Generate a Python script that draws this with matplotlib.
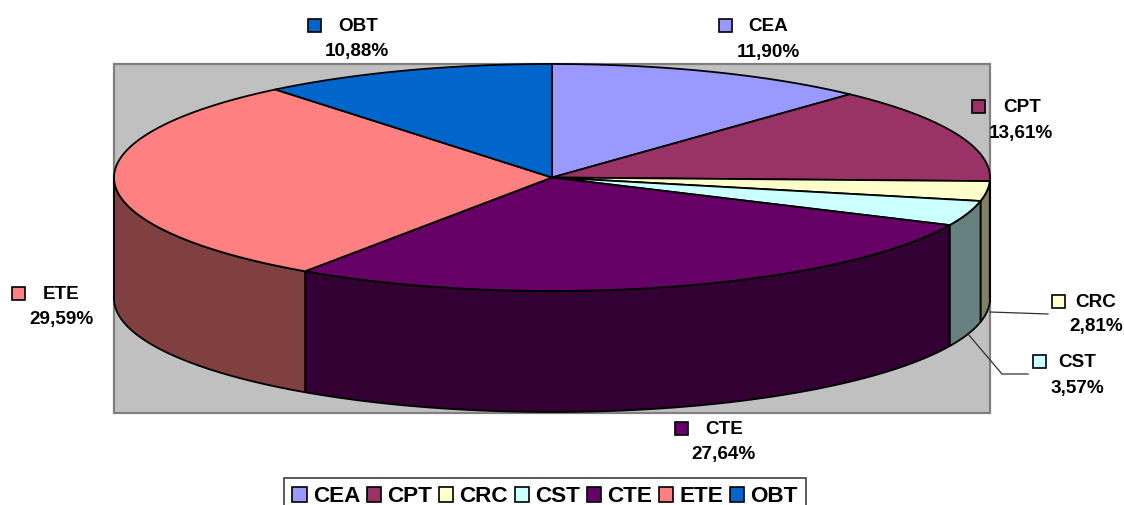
import numpy as np
import matplotlib
matplotlib.use("Agg")
import matplotlib.pyplot as plt
from matplotlib.patches import Polygon, Rectangle

plt.rcParams['font.family'] = ['Liberation Sans', 'DejaVu Sans']

categories = ['CEA', 'CPT', 'CRC', 'CST', 'CTE', 'ETE', 'OBT']
shares = [11.90, 13.61, 2.81, 3.57, 27.64, 29.59, 10.88]
share_labels = ['11,90%', '13,61%', '2,81%', '3,57%', '27,64%', '29,59%', '10,88%']
top_colors = ['#9999FF', '#993366', '#FFFFCC', '#CCFFFF', '#660066', '#FF8080', '#0066CC']
side_colors = ['#4D4D80', '#4D1A33', '#808066', '#668080', '#330033', '#804040', '#003366']

# layout (pixel coordinates of the reference)
W, H = 1124, 505
CX, CY, RX, RY, DEPTH = 552, 177.5, 438, 113.5, 121
marker_xy = [(725, 25), (978, 106), (1058, 301), (1039, 361), (681, 428), (18, 293), (314, 25)]
name_xy = [(768, 26.5), (1022, 107.5), (1096, 302.5), (1077, 362.5), (724, 429.5), (61, 294.5), (358, 26.5)]
pct_xy = [(768, 52), (1021, 133.5), (1096, 327), (1077, 388.5), (724, 454.5), (61, 319.5), (357, 51.5)]

fig = plt.figure(figsize=(W / 100, H / 100), dpi=100, facecolor='white')
ax = fig.add_axes([0, 0, 1, 1])
ax.set_xlim(0, W)
ax.set_ylim(H, 0)
ax.axis('off')

ax.add_patch(Rectangle((114, 64), 876, 349, fc='#C0C0C0', ec='#808080', lw=1.6, zorder=1))


def arc(a0, a1, dy=0.0):
    t = np.radians(np.linspace(a0, a1, max(int(abs(a1 - a0) * 2), 2)))
    return np.column_stack([CX + RX * np.sin(t), CY + dy - RY * np.cos(t)])


edges = np.concatenate([[0], np.cumsum(shares)]) / np.sum(shares) * 360
for i in range(len(categories)):
    a0, a1 = edges[i], edges[i + 1]
    lo, hi = max(a0, 90), min(a1, 270)
    if hi > lo:
        pts = np.vstack([arc(lo, hi), arc(lo, hi, DEPTH)[::-1]])
        ax.add_patch(Polygon(pts, closed=True, fc=side_colors[i], ec='black', lw=1.3,
                             joinstyle='round', zorder=2))
for i in range(len(categories)):
    pts = np.vstack([[(CX, CY)], arc(edges[i], edges[i + 1])])
    ax.add_patch(Polygon(pts, closed=True, fc=top_colors[i], ec='black', lw=1.3,
                         joinstyle='round', zorder=3))

# leader lines
ax.plot([990, 1048], [312, 314], color='#303030', lw=0.9, zorder=4)
ax.plot([968, 1002, 1028], [334, 374, 374], color='#303030', lw=0.9, zorder=4)

for i, c in enumerate(categories):
    mx, my = marker_xy[i]
    ax.add_patch(Rectangle((mx - 6.5, my - 6.5), 13, 13, fc=top_colors[i], ec='black', lw=1.2, zorder=5))
    ax.text(*name_xy[i], c, ha='center', va='center', fontsize=13.6, fontweight='bold', color='black')
    ax.text(*pct_xy[i], share_labels[i], ha='center', va='center', fontsize=13.6, fontweight='bold', color='black')

handles = [Rectangle((0, 0), 1, 1, fc=top_colors[i], ec='black', lw=1.2) for i in range(len(categories))]
leg = ax.legend(handles, categories, ncols=7, loc='upper left', bbox_to_anchor=(284, 478),
                bbox_transform=ax.transData, frameon=True, fancybox=False, edgecolor='#404040',
                facecolor='white', framealpha=1, borderaxespad=0, borderpad=0.36,
                handlelength=0.64, handleheight=0.64, handletextpad=0.28, columnspacing=0.29,
                prop={'family': 'Liberation Sans', 'weight': 'bold', 'size': 16.2})
leg.get_frame().set_linewidth(1.2)

fig.savefig('out.png', dpi=100, facecolor='white')
